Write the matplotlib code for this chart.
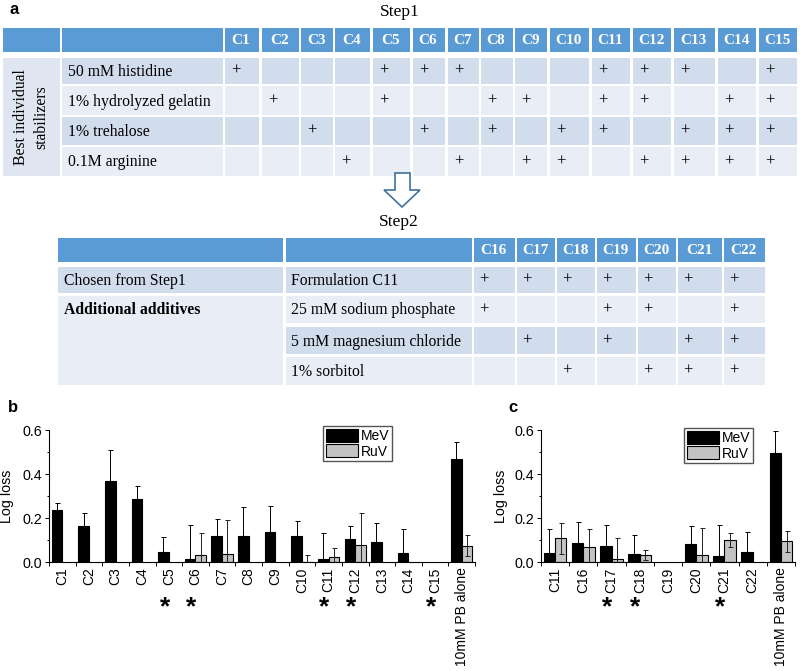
import numpy as np
import matplotlib.pyplot as plt
from matplotlib.patches import Rectangle, Polygon
from matplotlib.transforms import blended_transform_factory

W, H = 800, 671
nan = np.nan

# ---- table contents
step1_cols = ['C%d' % i for i in range(1, 16)]
step1_rows = ['50 mM histidine', '1% hydrolyzed gelatin', '1% trehalose', '0.1M arginine']
step1_plus = [
    [1, 0, 0, 0, 1, 1, 1, 0, 0, 0, 1, 1, 1, 0, 1],
    [0, 1, 0, 0, 1, 0, 0, 1, 1, 0, 1, 1, 0, 1, 1],
    [0, 0, 1, 0, 0, 1, 0, 1, 0, 1, 1, 0, 1, 1, 1],
    [0, 0, 0, 1, 0, 0, 1, 0, 1, 1, 0, 1, 1, 1, 1],
]
step2_cols = ['C%d' % i for i in range(16, 23)]
step2_rows = ['Formulation C11', '25 mM sodium phosphate', '5 mM magnesium chloride', '1% sorbitol']
step2_plus = [
    [1, 1, 1, 1, 1, 1, 1],
    [1, 0, 0, 1, 1, 0, 1],
    [0, 1, 0, 1, 0, 1, 1],
    [0, 0, 1, 0, 1, 1, 1],
]

# ---- bar chart data (log loss)
b_labels = step1_cols + ['10mM PB alone']
b_mev = [0.237, 0.162, 0.366, 0.286, 0.044, 0.012, 0.119, 0.118, 0.135, 0.120, 0.012, 0.105, 0.092, 0.043, nan, 0.467]
b_mev_err = [0.030, 0.060, 0.143, 0.060, 0.068, 0.157, 0.077, 0.132, 0.118, 0.067, 0.120, 0.058, 0.085, 0.107, nan, 0.079]
b_ruv = [nan, nan, nan, nan, nan, 0.030, 0.038, nan, nan, 0.0, 0.025, 0.076, nan, nan, nan, 0.074]
b_ruv_err = [nan, nan, nan, nan, nan, 0.101, 0.151, nan, nan, 0.031, 0.040, 0.145, nan, nan, nan, 0.047]
b_sig = ['C5', 'C6', 'C11', 'C12', 'C15']

c_labels = ['C11'] + step2_cols + ['10mM PB alone']
c_mev = [0.039, 0.088, 0.073, 0.038, nan, 0.083, 0.029, 0.047, 0.494]
c_mev_err = [0.111, 0.094, 0.095, 0.085, nan, 0.081, 0.138, 0.091, 0.103]
c_ruv = [0.108, 0.070, 0.015, 0.032, nan, 0.033, 0.100, nan, 0.094]
c_ruv_err = [0.070, 0.082, 0.095, 0.023, nan, 0.123, 0.030, nan, 0.047]
c_sig = ['C17', 'C18', 'C21']

HEAD = '#5B9BD5'
DARK = '#D1DCED'
LIGHT = '#E9EEF6'
SIDE = '#DFE6F2'
SERIF = 'Liberation Serif'
SANS = 'Liberation Sans'

fig = plt.figure(figsize=(W / 100, H / 100), dpi=100)
bg = fig.add_axes([0, 0, 1, 1])
bg.set_xlim(0, W)
bg.set_ylim(H, 0)
bg.axis('off')


def cell(x0, x1, y0, y1, color):
    bg.add_patch(Rectangle((x0, y0), x1 - x0, y1 - y0, facecolor=color, edgecolor='none'))


# ---- Step1 table
cols1 = [(225, 259), (262, 299), (301, 333), (335, 370), (373, 410), (413, 445), (448, 479), (481, 513),
         (515, 547), (550, 589), (592, 630), (633, 671), (674, 715), (718, 756), (759, 797)]
rows1 = [(58, 84), (86, 115), (117, 145), (147, 176)]
hdr1 = (28, 52)
bg.text(10, 10, 'a', fontsize=12, fontweight='bold', family=SANS, va='center')
bg.text(400, 12, 'Step1', fontsize=12.5, family=SERIF, ha='center', va='center')
cell(3, 60, *hdr1, HEAD)
cell(62, 223, *hdr1, HEAD)
for (x0, x1), name in zip(cols1, step1_cols):
    cell(x0, x1, *hdr1, HEAD)
    bg.text((x0 + x1) / 2 - 1, sum(hdr1) / 2 + 1, name, color='white', fontsize=11, fontweight='bold',
            family=SERIF, ha='center', va='center')
cell(3, 60, rows1[0][0], rows1[-1][1], SIDE)
bg.text(31, 117, 'Best individual\nstabilizers', rotation=90, fontsize=11.3, family=SERIF,
        ha='center', va='center', linespacing=1.35)
for r, ((y0, y1), name) in enumerate(zip(rows1, step1_rows)):
    col = DARK if r % 2 == 0 else LIGHT
    cell(62, 223, y0, y1, col)
    bg.text(68, (y0 + y1) / 2 + 1, name, fontsize=11.3, family=SERIF, va='center')
    for c, (x0, x1) in enumerate(cols1):
        cell(x0, x1, y0, y1, col)
        if step1_plus[r][c]:
            bg.text(x0 + 11, (y0 + y1) / 2, '+', fontsize=12, family=SERIF, ha='center', va='center')

# ---- arrow and Step2 table
bg.add_patch(Polygon([(395, 173), (410, 173), (410, 190), (420, 190), (402, 207), (384, 190), (395, 190)],
                     closed=True, facecolor='white', edgecolor='#41719C', lw=1.2))
bg.text(399, 222, 'Step2', fontsize=12.5, family=SERIF, ha='center', va='center')
cols2 = [(474, 515), (517, 555), (557, 595), (597, 636), (638, 676), (678, 722), (724, 765)]
rows2 = [(267, 293), (296, 323), (327, 354), (357, 385)]
hdr2 = (238, 262)
cell(58, 283, *hdr2, HEAD)
cell(286, 472, *hdr2, HEAD)
for (x0, x1), name in zip(cols2, step2_cols):
    cell(x0, x1, *hdr2, HEAD)
    bg.text((x0 + x1) / 2 - 1, sum(hdr2) / 2 + 1, name, color='white', fontsize=11, fontweight='bold',
            family=SERIF, ha='center', va='center')
cell(58, 283, *rows2[0], DARK)
bg.text(64, sum(rows2[0]) / 2 + 1, 'Chosen from Step1', fontsize=11.3, family=SERIF, va='center')
cell(58, 283, rows2[1][0], rows2[-1][1], LIGHT)
bg.text(64, sum(rows2[1]) / 2 + 1, 'Additional additives', fontsize=11.3, fontweight='bold', family=SERIF,
        va='center')
for r, ((y0, y1), name) in enumerate(zip(rows2, step2_rows)):
    col = DARK if r % 2 == 0 else LIGHT
    cell(286, 472, y0, y1, col)
    bg.text(291, (y0 + y1) / 2 + 1, name, fontsize=11.3, family=SERIF, va='center')
    for c, (x0, x1) in enumerate(cols2):
        cell(x0, x1, y0, y1, col)
        if step2_plus[r][c]:
            bg.text(x0 + 10, (y0 + y1) / 2, '+', fontsize=12, family=SERIF, ha='center', va='center')


# ---- bar charts
def draw_bars(left, right, labels, mev, mev_err, ruv, ruv_err, sig, ylab_x, letter_x, letter):
    ax = fig.add_axes([left / W, 1 - 562 / H, (right - left) / W, 132 / H])
    ax.patch.set_alpha(0)
    x = np.arange(len(labels))
    w = 0.4
    ax.bar(x - w / 2, mev, w, color='black', edgecolor='black', lw=0.8, label='MeV')
    ax.bar(x + w / 2, ruv, w, color='#C3C3C3', edgecolor='black', lw=0.8, label='RuV')
    ax.errorbar(x - w / 2, mev, yerr=mev_err, fmt='none', ecolor='black', elinewidth=0.7,
                capsize=1.8, capthick=0.7)
    ax.errorbar(x + w / 2, ruv, yerr=ruv_err, fmt='none', ecolor='#222222', elinewidth=0.7,
                capsize=1.8, capthick=0.7)
    ax.set_xlim(-0.5, len(labels) - 0.5)
    ax.set_ylim(0, 0.6)
    for s in ['top', 'right']:
        ax.spines[s].set_visible(False)
    for s in ['left', 'bottom']:
        ax.spines[s].set_linewidth(0.8)
    ax.set_xticks(np.arange(len(labels) + 1) - 0.5)
    ax.set_xticklabels([])
    ax.set_xticks(x, minor=True)
    ax.set_xticklabels(labels, minor=True, rotation=90, fontsize=10, family=SANS)
    ax.tick_params(axis='x', which='major', length=3, width=0.7)
    ax.tick_params(axis='x', which='minor', length=0, pad=4)
    ax.set_yticks([0, 0.2, 0.4, 0.6])
    ax.set_yticklabels(['%.1f' % v for v in [0, 0.2, 0.4, 0.6]], fontsize=10.3, family=SANS)
    ax.set_yticks([0.1, 0.3, 0.5], minor=True)
    ax.tick_params(axis='y', which='major', length=3, width=0.7, pad=2)
    ax.tick_params(axis='y', which='minor', length=1.8, width=0.7)
    ax.set_ylabel('Log loss', fontsize=10.3, family=SANS)
    ax.yaxis.set_label_coords((ylab_x - left) / (right - left), 0.5)
    tr = blended_transform_factory(ax.transData, fig.transFigure)
    for name in sig:
        ax.text(labels.index(name) - 0.15, 1 - 614 / H, '*', transform=tr, fontsize=19, fontweight='bold',
                family=SANS, ha='center', va='baseline', clip_on=False)
    fig.text(letter_x / W, 1 - 407 / H, letter, fontsize=12, fontweight='bold', family=SANS, va='center')
    ax.legend(loc='upper left', bbox_to_anchor=((left + (right - left) * 0.64) / W, 1 - 427 / H),
              bbox_transform=fig.transFigure, prop={'family': SANS, 'size': 10}, frameon=True,
              fancybox=False, edgecolor='#555555', handlelength=2.3, handleheight=1.05, borderpad=0.2,
              labelspacing=0.1, handletextpad=0.25, borderaxespad=0, framealpha=1)
    return ax


axb = draw_bars(49, 475, b_labels, b_mev, b_mev_err, b_ruv, b_ruv_err, b_sig, 14, 8, 'b')
axc = draw_bars(541, 795, c_labels, c_mev, c_mev_err, c_ruv, c_ruv_err, c_sig, 508, 508, 'c')
axb.get_legend().set_bbox_to_anchor((323 / W, 1 - 426 / H), transform=fig.transFigure)
axc.get_legend().set_bbox_to_anchor((684 / W, 1 - 428 / H), transform=fig.transFigure)

fig.savefig('out.png', dpi=100)
